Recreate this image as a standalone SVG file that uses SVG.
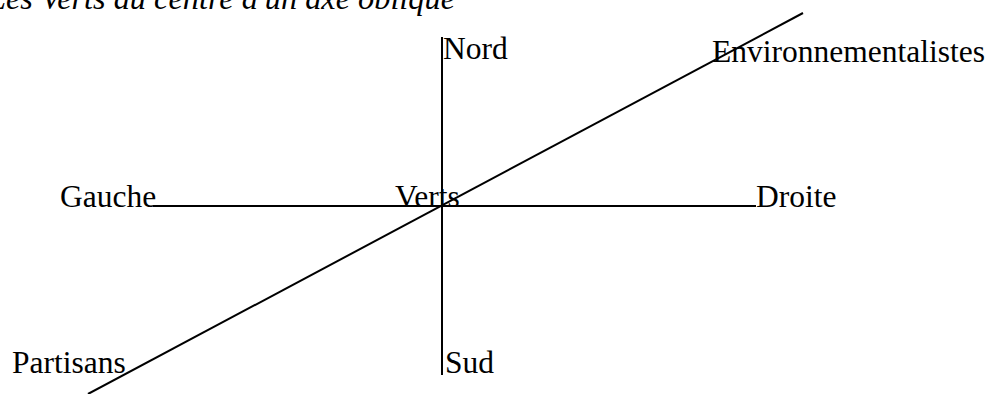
<svg xmlns="http://www.w3.org/2000/svg" width="991" height="394" viewBox="0 0 991 394">
<style>
text{font-family:"Liberation Serif","Times New Roman",serif;font-size:31.5px;fill:#000}
.title{font-style:italic}
.ax{stroke:#000;stroke-width:2;fill:none}
</style>
<rect width="991" height="394" fill="#fff"/>
<text class="title" x="-12" y="9" textLength="467" lengthAdjust="spacingAndGlyphs">Les Verts au centre d'un axe oblique</text>
<g id="connectors">
<line class="ax" x1="442" y1="37" x2="442" y2="375"/>
<line class="ax" x1="153" y1="206" x2="756" y2="206"/>
<line class="ax" x1="803" y1="13" x2="88" y2="394"/>
</g>
<g id="nord"><text x="443" y="59">Nord</text></g>
<g id="sud"><text x="445" y="373">Sud</text></g>
<g id="gauche"><text x="60" y="207">Gauche</text></g>
<g id="droite"><text x="756" y="207">Droite</text></g>
<g id="verts"><text x="395" y="207">Verts</text></g>
<g id="environnementalistes"><text x="712" y="62">Environnementalistes</text></g>
<g id="partisans"><text x="12" y="373">Partisans</text></g>
</svg>
